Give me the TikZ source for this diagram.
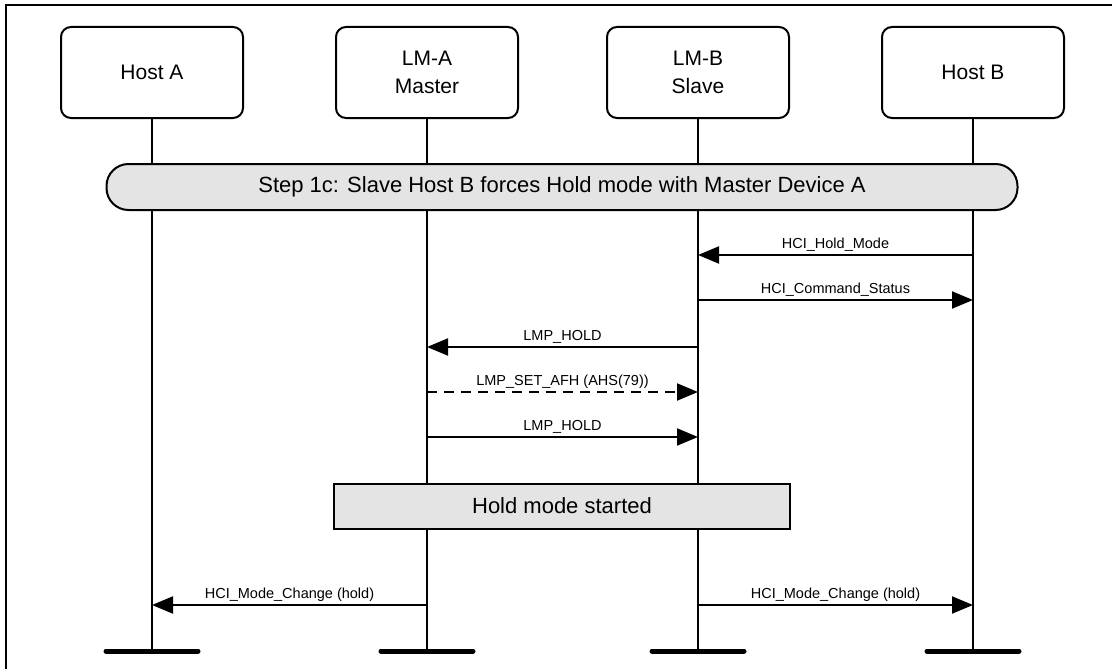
\documentclass[tikz,border=0pt]{standalone}
\usepackage{fontspec}
\setmainfont{Liberation Sans}
\usetikzlibrary{arrows.meta}

\definecolor{bargray}{HTML}{E4E4E4}

\begin{document}
\begin{tikzpicture}[x=1pt,y=-1pt,line width=2pt,
  entity/.style={draw,rounded corners=10pt,fill=white,minimum width=182pt,minimum height=91pt,align=center,font=\fontsize{21}{28}\selectfont,inner sep=0pt},
  stepbar/.style={draw,rounded corners=22pt,fill=bargray,minimum width=911pt,minimum height=46pt,font=\fontsize{22}{26}\selectfont,inner sep=0pt},
  statebox/.style={draw,fill=bargray,minimum width=456pt,minimum height=45pt,font=\fontsize{22}{26}\selectfont,inner sep=0pt},
  msg/.style={-{Triangle[length=21pt,width=17pt]}},
  lbl/.style={anchor=base,yshift=7pt,font=\fontsize{14.5}{17}\selectfont,inner sep=0pt},
  endbar/.style={line width=5pt,line cap=round}]
\useasboundingbox (0,0) rectangle (1112,669);
% frame
\draw (6,669) -- (6,5) -- (1112,5);

% entities
\node[entity] (hostA) at (152,72.5) {Host A};
\node[entity] (lmA) at (427,72.5) {LM-A\\Master};
\node[entity] (lmB) at (698,72.5) {LM-B\\Slave};
\node[entity] (hostB) at (973,72.5) {Host B};

\coordinate (endA) at (152,651);
\coordinate (endLA) at (427,651);
\coordinate (endLB) at (698,651);
\coordinate (endB) at (973,651);

% lifelines
\draw (hostA.south) -- (endA);
\draw (lmA.south) -- (endLA);
\draw (lmB.south) -- (endLB);
\draw (hostB.south) -- (endB);

\node[stepbar] (step) at (562,187) {Step 1c: Slave Host B forces Hold mode with Master Device A};
\node[statebox] (hold) at (562,506) {Hold mode started};

% message rows
\coordinate (r1) at (0,255);
\coordinate (r2) at (0,300);
\coordinate (r3) at (0,347);
\coordinate (r4) at (0,392);
\coordinate (r5) at (0,437);
\coordinate (r6) at (0,605);

\draw[msg] (hostB |- r1) -- node[lbl] {HCI\_Hold\_Mode} (lmB |- r1);
\draw[msg] (lmB |- r2) -- node[lbl] {HCI\_Command\_Status} (hostB |- r2);
\draw[msg] (lmB |- r3) -- node[lbl] {LMP\_HOLD} (lmA |- r3);
\draw[msg,dash pattern=on 10pt off 7pt] (lmA |- r4) -- node[lbl] {LMP\_SET\_AFH (AHS(79))} (lmB |- r4);
\draw[msg] (lmA |- r5) -- node[lbl] {LMP\_HOLD} (lmB |- r5);
\draw[msg] (lmA |- r6) -- node[lbl] {HCI\_Mode\_Change (hold)} (hostA |- r6);
\draw[msg] (lmB |- r6) -- node[lbl] {HCI\_Mode\_Change (hold)} (hostB |- r6);

% lifeline ends
\draw[endbar] ([xshift=-46pt]endA) -- ([xshift=46pt]endA);
\draw[endbar] ([xshift=-46pt]endLA) -- ([xshift=46pt]endLA);
\draw[endbar] ([xshift=-46pt]endLB) -- ([xshift=46pt]endLB);
\draw[endbar] ([xshift=-46pt]endB) -- ([xshift=46pt]endB);
\end{tikzpicture}
\end{document}
